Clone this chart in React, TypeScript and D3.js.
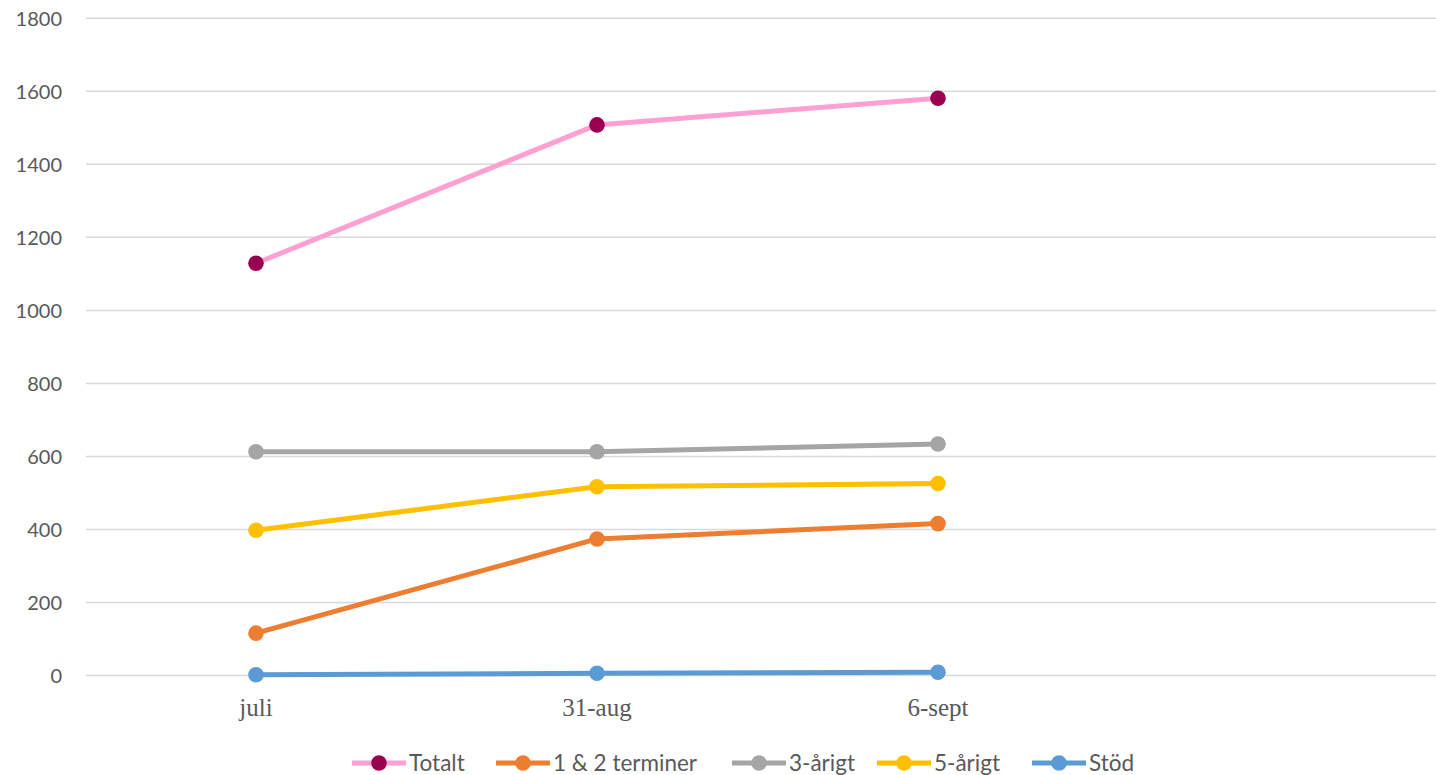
import React from "react";
import * as d3 from "d3";

const categories = ["juli", "31-aug", "6-sept"];
const totalt = [1129, 1508, 1581];
const terminer = [116, 374, 416];
const arigt3 = [613, 613, 634];
const arigt5 = [398, 517, 526];
const stod = [2, 6, 9];
const yTicks = [0, 200, 400, 600, 800, 1000, 1200, 1400, 1600, 1800];

const seriesNames = ["Totalt", "1 & 2 terminer", "3-årigt", "5-årigt", "Stöd"];
const seriesValues = [totalt, terminer, arigt3, arigt5, stod];
const lineColors = ["#FFA0D2", "#ED7D31", "#A5A5A5", "#FFC000", "#5B9BD5"];
const markerColors = ["#990050", "#ED7D31", "#A5A5A5", "#FFC000", "#5B9BD5"];
const legendX = [352, 496, 732, 877, 1032];

const W = 1436;
const H = 775;
const SANS = "Lato, 'Open Sans', sans-serif";

export default function App() {
  const x = d3.scalePoint<string>().domain(categories).range([256, 938]);
  const y = d3.scaleLinear().domain([0, 1800]).range([675.5, 18.3]);
  const line = d3
    .line<number>()
    .x((_, i) => x(categories[i]) as number)
    .y((d) => y(d));
  const drawOrder = [0, 1, 2, 3, 4];

  return (
    <svg
      width={W}
      height={H}
      style={{ position: "absolute", left: 0, top: 0, background: "#fff" }}
    >
      {yTicks.map((t) => (
        <g key={t}>
          <line x1={86} x2={W} y1={y(t)} y2={y(t)} stroke="#D9D9D9" strokeWidth={1.5} />
          <text
            x={62}
            y={y(t)}
            dy="0.36em"
            textAnchor="end"
            fontFamily={SANS}
            fontSize={20}
            fill="#595959"
          >
            {t}
          </text>
        </g>
      ))}
      {categories.map((c) => (
        <text
          key={c}
          x={x(c)}
          y={716}
          textAnchor="middle"
          fontFamily="'Liberation Serif', serif"
          fontSize={25}
          fill="#595959"
        >
          {c}
        </text>
      ))}
      {drawOrder.map((si) => (
        <g key={seriesNames[si]}>
          <path
            d={line(seriesValues[si]) || ""}
            fill="none"
            stroke={lineColors[si]}
            strokeWidth={5}
            strokeLinejoin="round"
            strokeLinecap="round"
          />
          {seriesValues[si].map((v, i) => (
            <circle
              key={i}
              cx={x(categories[i])}
              cy={y(v)}
              r={7.8}
              fill={markerColors[si]}
            />
          ))}
        </g>
      ))}
      {seriesNames.map((n, si) => (
        <g key={n} transform={`translate(${legendX[si]},763)`}>
          <line x1={0} x2={54} y1={0} y2={0} stroke={lineColors[si]} strokeWidth={5} />
          <circle cx={27} cy={0} r={7.8} fill={markerColors[si]} />
          <text
            x={57}
            y={0}
            dy="0.36em"
            fontFamily={SANS}
            fontSize={22.5}
            fill="#595959"
          >
            {n}
          </text>
        </g>
      ))}
    </svg>
  );
}
